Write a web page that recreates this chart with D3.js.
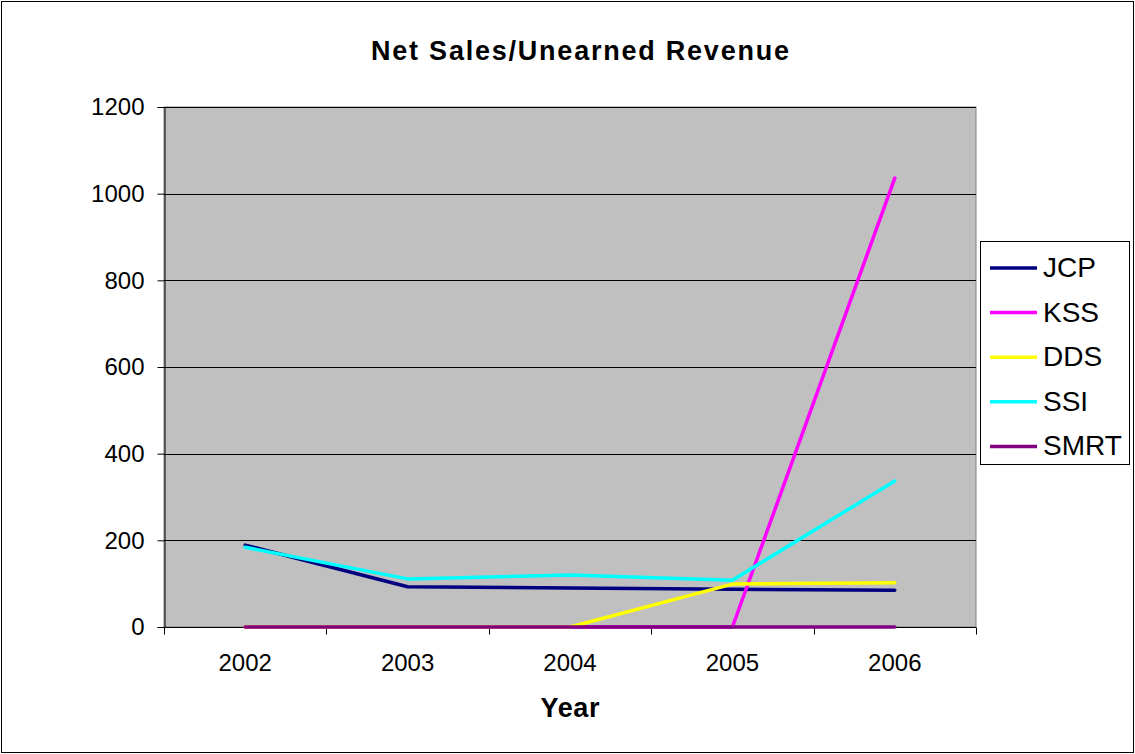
<!DOCTYPE html>
<html>
<head>
<meta charset="utf-8">
<script src="https://cdn.jsdelivr.net/npm/d3@7"></script>
<style>
  html, body { margin: 0; padding: 0; background: #fff; }
  svg { display: block; font-family: "Liberation Sans", Arial, sans-serif; }
</style>
</head>
<body>
<svg id="chart" width="1135" height="754"></svg>
<script>
// Fiscal years on the category axis
const years = ["2002", "2003", "2004", "2005", "2006"];

// Net sales / unearned revenue ratio per retailer
const jcp  = [189, 93, 90, 87, 85];
const kss  = [0, 0, 0, 0, 1036];
const dds  = [0, 0, 0, 99, 102];
const ssi  = [184, 111, 120, 108, 337];
const smrt = [0, 0, 0, 0, 0];

const seriesNames = ["JCP", "KSS", "DDS", "SSI", "SMRT"];
const seriesValues = [jcp, kss, dds, ssi, smrt];
const seriesColors = ["#000080", "#FF00FF", "#FFFF00", "#00FFFF", "#800080"];

const yTicks = [0, 200, 400, 600, 800, 1000, 1200];

const svg = d3.select("#chart");
const W = 1135, H = 754;
const plot = { left: 164, right: 976, top: 107, bottom: 627 };
const FONT = "'Liberation Sans', Arial, sans-serif";

// Outer chart frame
svg.append("rect")
  .attr("x", 1.5).attr("y", 1.5)
  .attr("width", W - 3).attr("height", H - 3)
  .attr("fill", "#fff").attr("stroke", "#000").attr("stroke-width", 1);

const x = d3.scaleBand().domain(years).range([plot.left, plot.right]).padding(0);
const y = d3.scaleLinear().domain([0, 1200]).range([plot.bottom, plot.top]);

// Plot area background
svg.append("rect")
  .attr("x", plot.left).attr("y", plot.top)
  .attr("width", plot.right - plot.left).attr("height", plot.bottom - plot.top)
  .attr("fill", "#C0C0C0").attr("stroke", "#808080").attr("stroke-width", 1);

// Horizontal gridlines
svg.append("g")
  .selectAll("line")
  .data(yTicks.filter(d => d > 0))
  .join("line")
  .attr("x1", plot.left).attr("x2", plot.right)
  .attr("y1", d => Math.round(y(d)) + 0.5).attr("y2", d => Math.round(y(d)) + 0.5)
  .attr("stroke", "#000").attr("stroke-width", 1);

// Y axis
const yAxis = svg.append("g")
  .attr("transform", `translate(${plot.left + 0.5},0)`)
  .call(d3.axisLeft(y).tickValues(yTicks).tickSize(7).tickPadding(13).tickFormat(d3.format("d")));
yAxis.select(".domain").attr("stroke", "#000");
yAxis.selectAll(".tick line").attr("stroke", "#000");
yAxis.selectAll("text")
  .attr("font-size", 24).attr("fill", "#000")
  .attr("font-family", FONT);

// X axis: ticks sit on the category boundaries
const xAxisG = svg.append("g").attr("transform", `translate(0,${plot.bottom + 0.5})`);
xAxisG.append("line")
  .attr("x1", plot.left).attr("x2", plot.right)
  .attr("stroke", "#000");
const boundaries = years.map(d => x(d)).concat([x(years[years.length - 1]) + x.bandwidth()]);
xAxisG.selectAll("line.tk")
  .data(boundaries)
  .join("line").attr("class", "tk")
  .attr("x1", d => Math.round(d) + 0.5).attr("x2", d => Math.round(d) + 0.5)
  .attr("y1", 0).attr("y2", 7)
  .attr("stroke", "#000");
xAxisG.selectAll("text")
  .data(years)
  .join("text")
  .attr("x", d => x(d) + x.bandwidth() / 2)
  .attr("y", 43)
  .attr("text-anchor", "middle")
  .attr("font-size", 24)
  .attr("fill", "#000")
  .text(d => d);

// Series lines
const line = d3.line()
  .x((d, i) => x(years[i]) + x.bandwidth() / 2)
  .y(d => y(d));

svg.append("g")
  .selectAll("path")
  .data(seriesValues)
  .join("path")
  .attr("d", d => line(d))
  .attr("fill", "none")
  .attr("stroke", (d, i) => seriesColors[i])
  .attr("stroke-width", 3.5)
  .attr("stroke-linejoin", "round")
  .attr("stroke-linecap", "round");

// Title
svg.append("text")
  .attr("x", 580).attr("y", 60)
  .attr("text-anchor", "middle")
  .attr("font-size", 27).attr("font-weight", "bold")
  .attr("textLength", 418).attr("lengthAdjust", "spacing")
  .text("Net Sales/Unearned Revenue");

// X axis title
svg.append("text")
  .attr("x", 570).attr("y", 717)
  .attr("text-anchor", "middle")
  .attr("font-size", 27).attr("font-weight", "bold")
  .attr("textLength", 59).attr("lengthAdjust", "spacing")
  .text("Year");

// Legend
const legend = svg.append("g");
legend.append("rect")
  .attr("x", 980.5).attr("y", 241.5)
  .attr("width", 149).attr("height", 223)
  .attr("fill", "#fff").attr("stroke", "#000").attr("stroke-width", 1);
const items = legend.selectAll("g.item")
  .data(seriesNames)
  .join("g").attr("class", "item")
  .attr("transform", (d, i) => `translate(0,${268 + i * 44.6})`);
items.append("line")
  .attr("x1", 990).attr("x2", 1037)
  .attr("y1", 0).attr("y2", 0)
  .attr("stroke", (d, i) => seriesColors[i])
  .attr("stroke-width", 3.5);
items.append("text")
  .attr("x", 1043).attr("y", 9)
  .attr("font-size", 28).attr("fill", "#000")
  .text(d => d);
</script>
</body>
</html>
